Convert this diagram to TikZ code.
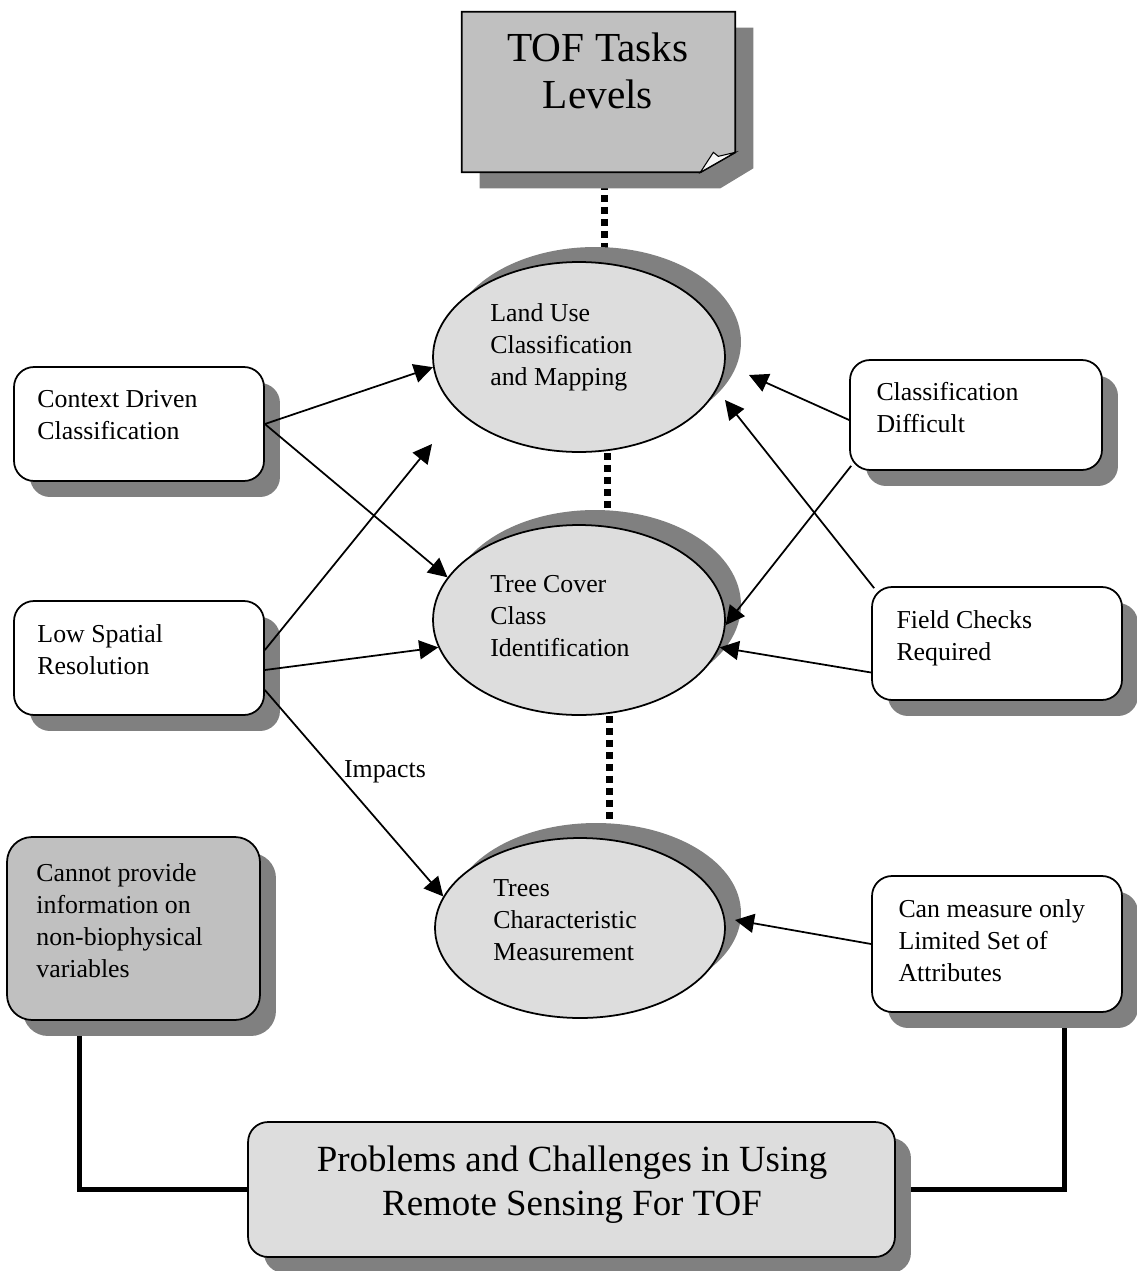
\documentclass[tikz,border=0pt]{standalone}
\usepackage{fontspec}
\setmainfont{Liberation Serif}
\usepackage{tikz}
\usetikzlibrary{shapes.geometric,shadows,arrows.meta,calc}
\definecolor{shadowgray}{HTML}{808080}
\definecolor{lightfill}{HTML}{DDDDDD}
\definecolor{darkfill}{HTML}{C0C0C0}
\pgfdeclarelayer{background}
\pgfsetlayers{background,main}

\begin{document}
\begin{tikzpicture}[x=0.02cm,y=-0.02cm,
    box/.style={draw,line width=1pt,rounded corners=0.4cm,fill=white,minimum width=5cm,minimum height=2.28cm,inner sep=0pt,
        drop shadow={shadow xshift=0.32cm,shadow yshift=-0.32cm,fill=shadowgray,opacity=1}},
    oval/.style={ellipse,draw,line width=1pt,fill=lightfill,minimum width=5.84cm,minimum height=3.8cm,inner sep=0pt,
        drop shadow={shadow xshift=0.32cm,shadow yshift=0.3cm,fill=shadowgray,opacity=1}},
    txt/.style={anchor=north west,align=left,inner sep=0pt,font=\fontsize{14.7}{18.2}\selectfont},
    bigtxt/.style={align=center,inner sep=0pt,font=\fontsize{21}{25}\selectfont},
    arr/.style={line width=1pt,-{Triangle[length=0.38cm,width=0.38cm]}},
    dots/.style={line width=0.14cm,dash pattern=on 0.14cm off 0.1cm},
    link/.style={line width=0.1cm}]
    \useasboundingbox (0,0) rectangle (1136,1271);

    % title sheet with folded corner
    \node[minimum width=5.46cm,minimum height=3.2cm,inner sep=0pt] (tof) at (598.5,92) {};
    \fill[shadowgray] ($(tof.north west)+(18,16)$) -- ($(tof.north east)+(18,16)$) -- ($(tof.south east)+(18,-4)$)
        -- ($(tof.south east)+(-15,16)$) -- ($(tof.south west)+(18,16)$) -- cycle;
    \draw[line width=1pt,fill=darkfill] (tof.north west) -- (tof.north east) -- ($(tof.south east)+(0,-20)$)
        -- ($(tof.south east)+(-35,0)$) -- (tof.south west) -- cycle;
    \draw[line width=0.6pt,fill=white!85!darkfill] ($(tof.south east)+(-35,0)$) .. controls ($(tof.south east)+(-28,-10)$) .. ($(tof.south east)+(-22,-20)$)
        -- ($(tof.south east)+(-17,-16)$) -- ($(tof.south east)+(0,-20)$) -- cycle;
    \node[bigtxt,font=\fontsize{23.5}{26.6}\selectfont] (toft) at (598,71) {TOF Tasks\\Levels};

    % levels
    \node[oval] (lu) at (579,357) {};
    \node[oval] (tc) at (579,620) {};
    \node[oval,minimum width=5.8cm,minimum height=3.6cm] (ts) at (580,928) {};
    \node[txt] (lut) at (490,303) {Land Use\\Classification\\and Mapping};
    \node[txt] (tct) at (490,575) {Tree Cover\\Class\\Identification};
    \node[txt] (tst) at (493,879) {Trees\\Characteristic\\Measurement};

    % problems
    \node[box] (ctx) at (139,424) {};
    \node[box] (lsr) at (139,658) {};
    \node[box,fill=darkfill,minimum width=5.06cm,minimum height=3.66cm,rounded corners=0.5cm] (cnp) at (133.5,928.5) {};
    \node[box,minimum width=5.04cm,minimum height=2.2cm] (cd) at (976,415) {};
    \node[box,minimum height=2.26cm] (fcr) at (997,643.5) {};
    \node[box,minimum height=2.72cm] (cmo) at (997,944) {};
    \node[box,fill=lightfill,minimum width=12.94cm,minimum height=2.7cm] (prob) at (571.5,1189.5) {};

    \node[txt] (ctxt) at ($(ctx.north west)+(24,24)$) {Context Driven\\Classification};
    \node[txt] (lsrt) at ($(lsr.north west)+(24,24)$) {Low Spatial\\Resolution};
    \node[txt] (cnpt) at ($(cnp.north west)+(30,27)$) {Cannot provide\\information on\\non-biophysical\\variables};
    \node[txt] (cdt) at ($(cd.north west)+(27,23)$) {Classification\\Difficult};
    \node[txt] (fcrt) at ($(fcr.north west)+(25,24)$) {Field Checks\\Required};
    \node[txt] (cmot) at ($(cmo.north west)+(27,24)$) {Can measure only\\Limited Set of\\Attributes};
    \node[bigtxt] (probt) at (572,1185) {Problems and Challenges in Using\\Remote Sensing For TOF};

    \begin{pgfonlayer}{background}
        \draw[dots] ($(tof.south)+(4,0)$) -- ($(tof.south -| lu.north)+(25,0)$) -- ($(lu.north)+(25,0)$);
        \draw[dots] ($(lu.south)+(28,0)$) -- ($(tc.north)+(28,0)$);
        \draw[dots] ($(tc.south)+(30,0)$) -- ($(ts.north)+(29,0)$);
        \draw[link] ($(cnp.south west)+(73,0)$) |- (prob.west);
        \draw[link] ($(cmo.south west)+(193,0)$) |- (prob.east);
    \end{pgfonlayer}

    \coordinate (lsr2lu) at (432,444);
    \coordinate (cd2lu) at (749,375);
    \coordinate (fcr2lu) at (725,400);
    \coordinate (cmo2ts) at (735,920);

    \draw[arr] (ctx.east) -- (lu.184);
    \draw[arr] (ctx.east) -- (tc.162);
    \draw[arr] ($(lsr.east)+(0,-8)$) -- (lsr2lu);
    \draw[arr] ($(lsr.east)+(0,12)$) -- (tc.191);
    \draw[arr] ($(lsr.east)+(0,32)$) -- (ts.167);
    \node[txt,anchor=center] (imp) at (385,772) {Impacts};
    \draw[arr] ($(cd.west)+(0,5)$) -- (cd2lu);
    \draw[arr] ($(cd.south west)+(2,-5)$) -- (tc.358);
    \draw[arr] ($(fcr.north west)+(3,2)$) -- (fcr2lu);
    \draw[arr] ($(fcr.west)+(0,29)$) -- (tc.349);
    \draw[arr] (cmo.west) -- (cmo2ts);
\end{tikzpicture}
\end{document}
